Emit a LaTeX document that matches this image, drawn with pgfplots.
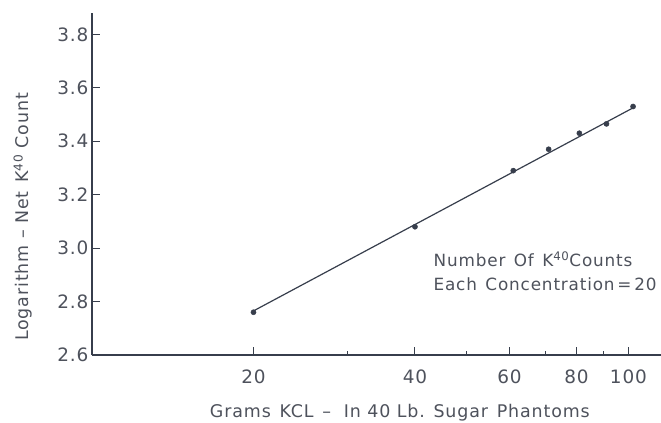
\documentclass[border=0pt]{standalone}
\usepackage{fontspec}
\setmainfont{DejaVu Sans}[LetterSpace=5]
\usepackage{pgfplots}
\pgfplotsset{compat=1.18}
\definecolor{ink}{RGB}{55,62,76}
\definecolor{txt}{RGB}{78,82,92}
\begin{document}
\begin{tikzpicture}
\path[use as bounding box, fill=white] (-92bp,-68bp) rectangle (569bp,355bp);
\begin{axis}[
  at={(0,0)}, anchor=south west, scale only axis,
  width=569bp, height=342bp,
  xmode=log, xmin=10, xmax=115, ymin=2.6, ymax=3.88,
  axis x line*=bottom, axis y line*=left,
  axis line style={ink, line width=1.1pt},
  xtick={20,40,60,80,100}, xticklabels={20,40,60,80,100},
  minor xtick={30,50,70,90},
  ytick={2.6,2.8,3.0,3.2,3.4,3.6,3.8},
  yticklabel style={/pgf/number format/fixed, /pgf/number format/fixed zerofill, /pgf/number format/precision=1},
  /pgf/number format/assume math mode=true,
  tick align=inside, major tick length=8bp, minor tick length=4bp,
  tick style={ink, line width=1pt},
  ticklabel style={font=\fontsize{18.5}{20}\selectfont, text=txt},
  xticklabel style={yshift=-11bp},
  yticklabel style={xshift=0bp},
  label style={font=\fontsize{17.5}{20}\selectfont, text=txt},
  xlabel={Grams\enspace KCL\enspace -- \ In 40 Lb. Sugar\enspace Phantoms},
  xlabel style={at={(rel axis cs:0.541,0)}, anchor=north, yshift=-46bp},
  ylabel={Logarithm -- Net\enspace K\textsuperscript{40} Count},
  ylabel style={at={(rel axis cs:-0.121,0.404)}, anchor=center},
  clip=false,
]
\addplot[ink, line width=1.2pt] coordinates {(20,2.765) (102,3.525)};
\addplot[only marks, mark=*, mark size=2.6pt, ink] coordinates {
  (20,2.76) (40,3.08) (61,3.29) (71,3.37) (81,3.43) (91,3.465) (102,3.53)};
\node[anchor=west, align=left, text=txt, font=\fontsize{16.9}{24}\selectfont, inner sep=0pt]
  at (rel axis cs:0.600,0.245) {Number\enspace Of\enspace K\textsuperscript{40}Counts\\Each\enspace Concentration\,=\,20};
\end{axis}
\end{tikzpicture}
\end{document}
